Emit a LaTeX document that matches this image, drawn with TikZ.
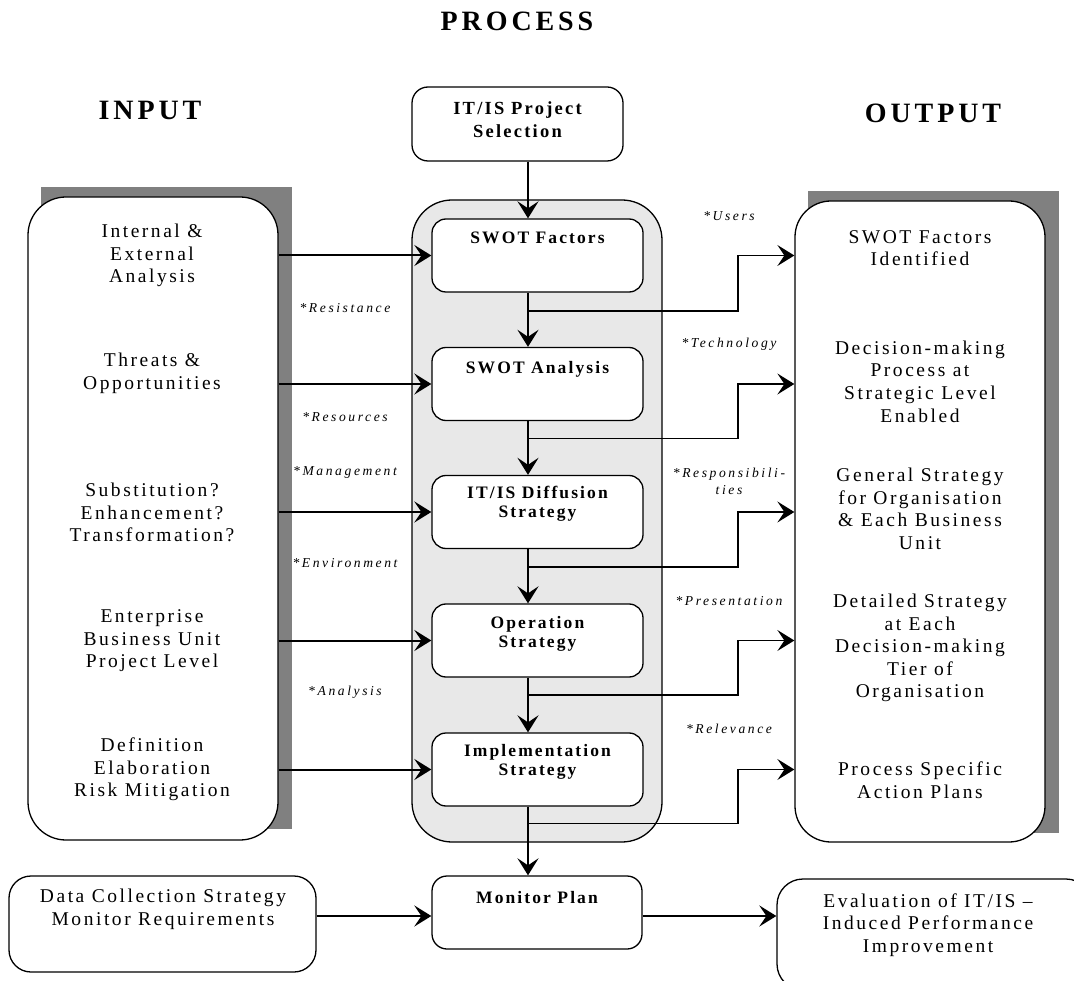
\documentclass[tikz,border=0pt]{standalone}
\usepackage{fontspec}
\setmainfont{Liberation Serif}
\newfontfamily\bodyfont[LetterSpace=13]{Liberation Serif}
\newfontfamily\procfont[LetterSpace=12]{Liberation Serif}
\newfontfamily\headfont[LetterSpace=14]{Liberation Serif}
\newfontfamily\factorfont[LetterSpace=19]{Liberation Serif}
\usetikzlibrary{arrows.meta}
\definecolor{shadowgray}{RGB}{128,128,128}
\definecolor{procgray}{RGB}{232,232,232}

\begin{document}
\begin{tikzpicture}[x=1pt,y=-1pt,
  outline/.style={draw=black, line width=1.3pt},
  bigbox/.style={outline, rectangle, rounded corners=38pt, minimum width=250pt, inner sep=0pt, fill=white},
  procbox/.style={outline, rectangle, rounded corners=14pt, minimum width=211pt, minimum height=73pt, inner sep=0pt, fill=white},
  bodytext/.style={font=\bodyfont\fontsize{19.5}{22.6}\selectfont, align=center, inner sep=0pt},
  proctext/.style={font=\procfont\bfseries\fontsize{17.5}{19}\selectfont, align=center, inner sep=0pt},
  heading/.style={font=\headfont\bfseries\fontsize{28}{30}\selectfont, inner sep=0pt},
  factor/.style={font=\factorfont\itshape\fontsize{13.6}{17}\selectfont, align=center, inner sep=0pt},
  tip/.style={-{Stealth[length=17pt,width=21pt,inset=7pt]}},
  flow/.style={tip, line width=2.6pt},
  feed/.style={tip, line width=2pt},
  branch/.style={tip, line width=1.4pt},
]
\useasboundingbox (0,0) rectangle (1074,981);
\fill[white] (0,0) rectangle (1074,981);
\begin{scope}
\clip (0,0) rectangle (1074,981);

% column headings
\node[heading] (hprocess) at (517,21) {PROCESS};
\node[heading] (hinput) at (150,110) {INPUT};
\node[heading] (houtput) at (933,113) {OUTPUT};

% input column with its shadow
\fill[shadowgray] (41,187) rectangle (292,829);
\node[bigbox, minimum height=643pt] (inbox) at (153,518.5) {};

% output column with its shadow
\fill[shadowgray] (808,191) rectangle (1059,833);
\node[bigbox, minimum height=641pt, rounded corners=36pt] (outbox) at (920,521.5) {};

% process column
\node[bigbox, fill=procgray, minimum height=642pt, rounded corners=40pt] (procarea) at (537,521) {};

\node[procbox, minimum height=74pt, rounded corners=16pt] (sel) at (517.5,124) {};
\node[proctext, font=\procfont\bfseries\fontsize{18.5}{23}\selectfont] (tsel) at (517.5,119.5) {IT/IS Project\\Selection};

\node[procbox] (sf) at (537.5,255.5) {};
\node[procbox] (sa) at (537.5,384) {};
\node[procbox] (ds) at (537.5,512) {};
\node[procbox] (os) at (537.5,640.5) {};
\node[procbox] (is) at (537.5,769.5) {};

\node[proctext] (tsf) at (537.5,238) {SWOT Factors};
\node[proctext] (tsa) at (537.5,369) {SWOT Analysis};
\node[proctext] (tds) at (537.5,504) {IT/IS Diffusion\\Strategy};
\node[proctext] (tos) at (537.5,633.5) {Operation\\Strategy};
\node[proctext] (tis) at (537.5,762) {Implementation\\Strategy};

% bottom row
\node[procbox, minimum width=307pt, minimum height=96pt, rounded corners=22pt] (dc) at (162.5,924) {};
\node[bodytext] (tdc) at (163,909.5) {Data Collection Strategy\\Monitor Requirements};

\node[procbox, minimum width=210pt, minimum height=73pt, rounded corners=15pt] (mon) at (537,912.5) {};
\node[proctext] (tmon) at (537,898) {Monitor Plan};

\node[procbox, minimum width=315pt, minimum height=111pt, rounded corners=26pt] (ev) at (934.5,934.5) {};
\node[bodytext] (tev) at (928,925) {Evaluation of IT/IS –\\Induced Performance\\Improvement};

% input texts
\node[bodytext] (in1) at (152,255.5) {Internal \&\\External\\Analysis};
\node[bodytext] (in2) at (152,373.5) {Threats \&\\Opportunities};
\node[bodytext] (in3) at (152,512.5) {Substitution?\\Enhancement?\\Transformation?};
\node[bodytext] (in4) at (152,641) {Enterprise\\Business Unit\\Project Level};
\node[bodytext] (in5) at (152,769.5) {Definition\\Elaboration\\Risk Mitigation};

% output texts
\node[bodytext] (out1) at (920,248) {SWOT Factors\\Identified};
\node[bodytext] (out2) at (920,381.5) {Decision-making\\Process at\\Strategic Level\\Enabled};
\node[bodytext] (out3) at (920,509) {General Strategy\\for Organisation\\\& Each Business\\Unit};
\node[bodytext] (out4) at (920,648) {Detailed Strategy\\at Each\\Decision-making\\Tier of\\Organisation};
\node[bodytext] (out5) at (920,780) {Process Specific\\Action Plans};

% factor labels
\node[factor] (fres) at (345,308) {*Resistance};
\node[factor] (fsrc) at (345,417) {*Resources};
\node[factor] (fman) at (345,472) {*Management};
\node[factor] (fenv) at (345,563) {*Environment};
\node[factor] (fana) at (345,692) {*Analysis};
\node[factor] (fusr) at (729,216) {*Users};
\node[factor] (ftec) at (729,344) {*Technology};
\node[factor] (frsp) at (729,481.5) {*Responsibili-\\ties};
\node[factor] (fpre) at (729,601) {*Presentation};
\node[factor] (frel) at (729,729) {*Relevance};

% guide coordinates for the connectors
\coordinate (mx) at (528,0);
\coordinate (kx) at (738,0);
\coordinate (ay) at (0,916);
\coordinate (b1) at (528,311);
\coordinate (b2) at (528,438.5);
\coordinate (b3) at (528,567);
\coordinate (b4) at (528,695);
\coordinate (b5) at (528,823.5);

% main flow
\draw[flow] (sel.south -| mx) -- (sf.north -| mx);
\draw[flow] (sf.south -| mx) -- (sa.north -| mx);
\draw[flow] (sa.south -| mx) -- (ds.north -| mx);
\draw[flow] (ds.south -| mx) -- (os.north -| mx);
\draw[flow] (os.south -| mx) -- (is.north -| mx);
\draw[flow] (is.south -| mx) -- (mon.north -| mx);

% inputs into the process steps
\draw[feed] (inbox.east |- sf) -- (sf.west);
\draw[feed] (inbox.east |- sa) -- (sa.west);
\draw[feed] (inbox.east |- ds) -- (ds.west);
\draw[feed] (inbox.east |- os) -- (os.west);
\draw[feed] (inbox.east |- is) -- (is.west);

% outputs from the process steps
\draw[branch] (b1) -- (b1 -| kx) |- (sf -| outbox.west);
\draw[branch] (b2) -- (b2 -| kx) |- (sa -| outbox.west);
\draw[branch] (b3) -- (b3 -| kx) |- (ds -| outbox.west);
\draw[branch] (b4) -- (b4 -| kx) |- (os -| outbox.west);
\draw[branch] (b5) -- (b5 -| kx) |- (is -| outbox.west);

% monitoring row
\draw[feed] (dc.east |- ay) -- (mon.west |- ay);
\draw[feed] (mon.east |- ay) -- (ev.west |- ay);
\end{scope}
\end{tikzpicture}
\end{document}
